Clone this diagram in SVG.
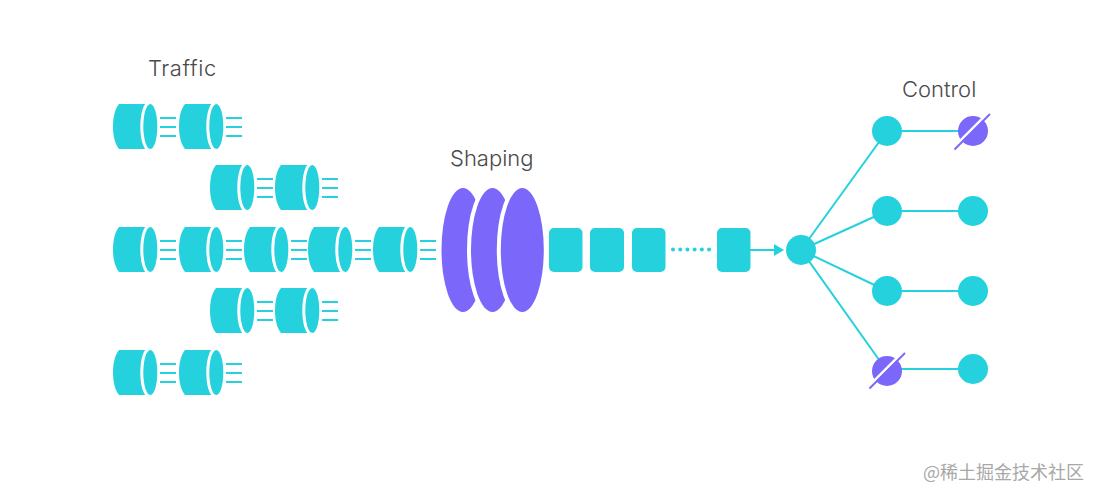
<svg xmlns="http://www.w3.org/2000/svg" width="1100" height="500" viewBox="0 0 1100 500">
<style>
.t{font-family:Inter,"Noto Sans",sans-serif;font-size:22px;font-weight:300;fill:#4a4a4a}
.c{fill:#24d1dd}
.p{fill:#7b68fb}
.l{stroke:#24d1dd;stroke-width:2;fill:none}
.s{stroke:#7b68fb;stroke-width:2;fill:none}
.g{stroke:#fff;stroke-width:2.5}
.sh{fill:#7b68fb;stroke:#fff;stroke-width:8;paint-order:stroke}
.cap{fill:#24d1dd;stroke:#fff;stroke-width:6;paint-order:stroke}
.wm{font-family:"Noto Sans CJK SC","Noto Sans",sans-serif;font-size:18px;fill:#a8a8a8}
</style>
<defs>
<g id="cyl">
<path class="c" d="M6 0H38V45H6C2 40 0 32 0 22.500C0 13 2 5 6 0Z"/>
<ellipse class="cap" cx="37.300" cy="22.500" rx="7" ry="22.500"/>
<path class="l" d="M47 14H63M47 23H63M47 32H63"/>
</g>
</defs>
<rect width="1100" height="500" fill="#fff"/>
<g id="connectors">
<path class="l" d="M750 250H775"/>
<path class="c" d="M774 244L784 250L774 256Z"/>
<path class="l" d="M801 250L887 131M801 250L887 211M801 250L887 291M801 250L887 371M887 131H973M887 211H973M887 291H973M887 369H973"/>
<path d="M673 249.500H710" stroke="#24d1dd" stroke-width="4" stroke-linecap="round" stroke-dasharray="0.01 7.2" fill="none"/>
</g>
<g id="label-traffic"><text class="t" x="148" y="76" letter-spacing="0.6">Traffic</text></g>
<g id="label-shaping"><text class="t" x="450" y="166">Shaping</text></g>
<g id="label-control"><text class="t" x="902" y="97">Control</text></g>
<g id="traffic-1-1"><use href="#cyl" x="113" y="104"/></g>
<g id="traffic-1-2"><use href="#cyl" x="179" y="104"/></g>
<g id="traffic-2-1"><use href="#cyl" x="210" y="165"/></g>
<g id="traffic-2-2"><use href="#cyl" x="275" y="165"/></g>
<g id="traffic-3-1"><use href="#cyl" x="113" y="227"/></g>
<g id="traffic-3-2"><use href="#cyl" x="179" y="227"/></g>
<g id="traffic-3-3"><use href="#cyl" x="244" y="227"/></g>
<g id="traffic-3-4"><use href="#cyl" x="308" y="227"/></g>
<g id="traffic-3-5"><use href="#cyl" x="373" y="227"/></g>
<g id="traffic-4-1"><use href="#cyl" x="210" y="288"/></g>
<g id="traffic-4-2"><use href="#cyl" x="275" y="288"/></g>
<g id="traffic-5-1"><use href="#cyl" x="113" y="350"/></g>
<g id="traffic-5-2"><use href="#cyl" x="179" y="350"/></g>
<g id="shaper">
<ellipse cx="463" cy="250" rx="21.500" ry="62" class="sh"/>
<ellipse cx="492.500" cy="250" rx="21.500" ry="62" class="sh"/>
<ellipse cx="522.300" cy="250" rx="21.500" ry="62" class="sh"/>
</g>
<g id="packet-1"><rect class="c" x="549" y="228" width="33.500" height="44" rx="5"/></g>
<g id="packet-2"><rect class="c" x="590" y="228" width="34" height="44" rx="5"/></g>
<g id="packet-3"><rect class="c" x="632" y="228" width="33.500" height="44" rx="5"/></g>
<g id="packet-4"><rect class="c" x="717" y="228" width="33.500" height="44" rx="5"/></g>
<g id="hub"><circle class="c" cx="801" cy="250" r="15"/></g>
<g id="node-a1"><circle class="c" cx="887" cy="131" r="15"/></g>
<g id="node-a2"><circle class="c" cx="887" cy="211" r="15"/></g>
<g id="node-a3"><circle class="c" cx="887" cy="291" r="15"/></g>
<g id="node-a4"><circle class="p" cx="887" cy="371" r="15"/><path class="g" d="M869 386L904 351"/><path class="s" d="M869.500 388.500L905 353"/></g>
<g id="node-b1"><circle class="p" cx="973" cy="131" r="15"/><path class="g" d="M955 146L990 111"/><path class="s" d="M954.500 149.500L990 114"/></g>
<g id="node-b2"><circle class="c" cx="973" cy="211" r="15"/></g>
<g id="node-b3"><circle class="c" cx="973" cy="291" r="15"/></g>
<g id="node-b4"><circle class="c" cx="973" cy="369" r="15"/></g>
<text class="wm" x="923" y="479">@稀土掘金技术社区</text>
</svg>
